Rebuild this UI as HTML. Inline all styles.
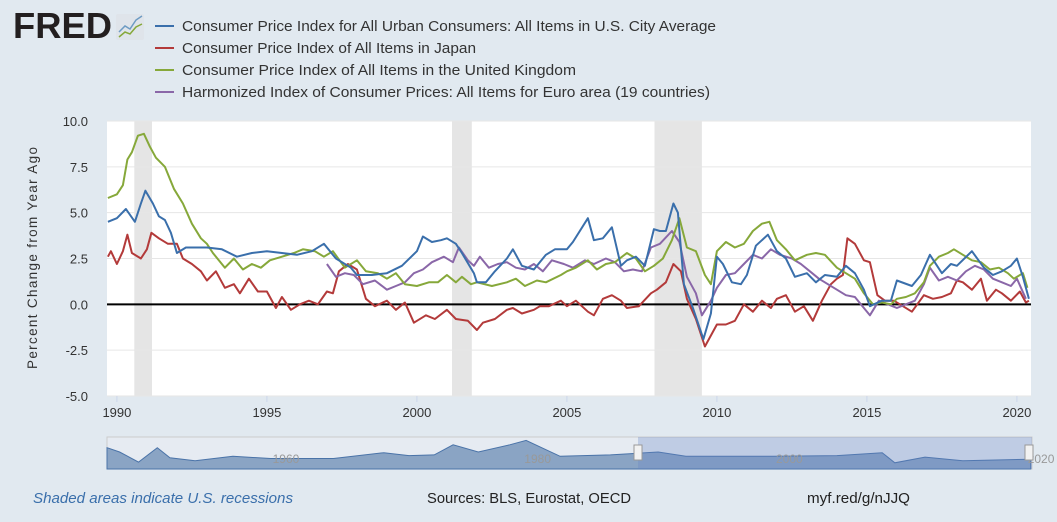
<!DOCTYPE html>
<html><head><meta charset="utf-8"><style>
body{margin:0;width:1057px;height:517px;background:#e1e9f0;font-family:"Liberation Sans",sans-serif;overflow:hidden;position:relative}
</style></head><body>
<svg id="c" width="1057" height="517" xmlns="http://www.w3.org/2000/svg"></svg>
<script>
const usYears=[1989.7,1990.0,1990.3,1990.6,1990.8,1990.95,1991.2,1991.4,1991.6,1991.8,1992.0,1992.3,1992.6,1993,1993.5,1994,1994.5,1995,1995.5,1996,1996.5,1996.9,1997.3,1997.8,1998,1998.5,1999,1999.5,2000,2000.2,2000.5,2000.8,2001.0,2001.3,2001.5,2001.9,2002.0,2002.3,2002.6,2003,2003.2,2003.5,2003.9,2004.3,2004.6,2005,2005.2,2005.7,2005.9,2006.2,2006.5,2006.8,2007.0,2007.3,2007.6,2007.9,2008.1,2008.3,2008.55,2008.7,2008.9,2009.2,2009.55,2009.8,2010.0,2010.2,2010.5,2010.8,2011.0,2011.3,2011.7,2012.0,2012.3,2012.6,2013.0,2013.3,2013.6,2014.0,2014.3,2014.6,2014.9,2015.1,2015.5,2015.8,2016.0,2016.5,2016.8,2017.1,2017.5,2017.8,2018.0,2018.5,2018.9,2019.2,2019.5,2019.8,2020.0,2020.2,2020.4];
const usValues=[4.5,4.7,5.2,4.5,5.5,6.2,5.5,4.8,4.6,3.9,2.8,3.1,3.1,3.1,3.0,2.6,2.8,2.9,2.8,2.7,2.9,3.3,2.5,2.0,1.6,1.6,1.7,2.1,2.9,3.7,3.4,3.5,3.6,3.3,2.8,1.7,1.2,1.2,1.8,2.5,3.0,2.1,1.9,2.7,3.0,3.0,3.4,4.7,3.5,3.6,4.2,2.1,2.4,2.6,2.1,4.1,4.0,4.0,5.5,5.0,1.1,-0.2,-1.9,-0.5,2.6,2.2,1.2,1.1,1.6,3.2,3.8,2.9,2.5,1.5,1.7,1.2,1.6,1.5,2.1,1.7,0.8,-0.1,0.2,0.2,1.3,1.0,1.6,2.7,1.7,2.2,2.1,2.9,2.0,1.6,1.8,2.1,2.5,1.5,0.3];
const jpYears=[1989.7,1989.8,1990.0,1990.2,1990.35,1990.5,1990.8,1991.0,1991.15,1991.4,1991.7,1992.0,1992.2,1992.5,1992.8,1993.0,1993.3,1993.6,1993.9,1994.1,1994.4,1994.7,1995.0,1995.3,1995.5,1995.8,1996.1,1996.4,1996.7,1997.0,1997.2,1997.4,1997.7,1998.0,1998.3,1998.6,1999.0,1999.3,1999.6,1999.9,2000.3,2000.6,2001.0,2001.3,2001.7,2002.0,2002.2,2002.6,2003.0,2003.2,2003.5,2003.9,2004.1,2004.4,2004.8,2005.0,2005.3,2005.7,2005.9,2006.2,2006.5,2006.8,2007.0,2007.4,2007.8,2008.0,2008.3,2008.55,2008.8,2009.0,2009.3,2009.6,2009.8,2010.0,2010.3,2010.6,2010.9,2011.2,2011.5,2011.8,2012.0,2012.3,2012.6,2012.9,2013.2,2013.5,2013.8,2014.0,2014.2,2014.35,2014.6,2014.9,2015.1,2015.35,2015.6,2015.9,2016.1,2016.5,2016.9,2017.2,2017.5,2017.8,2018.0,2018.2,2018.5,2018.8,2019.0,2019.3,2019.5,2019.8,2020.1,2020.3,2020.4];
const jpValues=[2.6,2.9,2.2,2.9,3.8,2.8,2.5,3.0,3.9,3.6,3.3,3.3,2.5,2.2,1.8,1.3,1.8,0.9,1.1,0.6,1.4,0.7,0.7,-0.2,0.4,-0.3,0.0,0.2,0.0,0.7,0.6,1.8,2.2,1.9,0.3,-0.1,0.2,-0.3,0.1,-1.0,-0.6,-0.8,-0.3,-0.8,-0.9,-1.4,-1.0,-0.8,-0.3,-0.2,-0.5,-0.3,-0.1,-0.1,0.2,-0.1,0.2,-0.4,-0.6,0.3,0.5,0.2,-0.2,-0.1,0.6,0.8,1.2,2.2,1.8,0.3,-0.8,-2.3,-1.7,-1.1,-1.1,-0.9,0.0,-0.4,0.2,-0.2,0.3,0.5,-0.4,-0.1,-0.9,0.2,1.1,1.4,1.6,3.6,3.3,2.4,2.3,0.5,0.2,0.2,0.0,-0.4,0.5,0.3,0.4,0.6,1.3,1.2,0.8,1.4,0.2,0.8,0.6,0.2,0.7,0.1,0.2];
const ukYears=[1989.7,1990.0,1990.2,1990.35,1990.5,1990.7,1990.9,1991.1,1991.3,1991.6,1991.9,1992.2,1992.5,1992.8,1993.0,1993.2,1993.6,1993.9,1994.2,1994.5,1994.8,1995.1,1995.5,1995.9,1996.2,1996.6,1996.9,1997.2,1997.6,1998.0,1998.3,1998.7,1999.0,1999.3,1999.6,2000.0,2000.4,2000.7,2001.0,2001.3,2001.5,2001.8,2002.0,2002.5,2003.0,2003.3,2003.6,2004.0,2004.3,2004.8,2005.0,2005.3,2005.7,2006.0,2006.3,2006.6,2007.0,2007.3,2007.6,2007.9,2008.2,2008.5,2008.75,2009.0,2009.3,2009.6,2009.8,2010.0,2010.3,2010.6,2010.9,2011.2,2011.5,2011.75,2012.0,2012.3,2012.6,2013.0,2013.3,2013.6,2014.0,2014.3,2014.6,2014.9,2015.2,2015.5,2015.8,2016.0,2016.3,2016.6,2016.9,2017.1,2017.4,2017.7,2017.9,2018.2,2018.5,2018.8,2019.1,2019.4,2019.7,2019.9,2020.2,2020.35];
const ukValues=[5.8,6.0,6.5,7.9,8.3,9.2,9.3,8.6,8.0,7.5,6.3,5.5,4.4,3.6,3.3,2.8,2.0,2.5,1.9,2.2,2.0,2.4,2.6,2.8,3.0,2.9,2.6,2.9,2.0,2.4,1.8,1.7,1.4,1.7,1.1,1.0,1.2,1.2,1.6,1.2,1.5,1.1,1.2,1.0,1.2,1.4,1.0,1.3,1.2,1.6,1.8,2.0,2.4,1.9,2.2,2.3,2.8,2.5,1.8,2.1,2.5,3.5,4.7,3.1,2.9,1.6,1.1,2.9,3.4,3.1,3.3,4.0,4.4,4.5,3.5,3.0,2.4,2.7,2.8,2.7,2.0,1.7,1.4,0.6,0.0,0.1,0.0,0.3,0.4,0.6,1.2,2.1,2.6,2.8,3.0,2.7,2.4,2.3,1.9,2.0,1.7,1.4,1.7,0.9];
const euYears=[1997.0,1997.3,1997.6,1997.9,1998.2,1998.6,1999.0,1999.3,1999.6,1999.9,2000.2,2000.5,2000.9,2001.2,2001.4,2001.7,2001.9,2002.1,2002.4,2002.7,2003.0,2003.3,2003.6,2003.9,2004.2,2004.5,2004.9,2005.2,2005.6,2005.9,2006.3,2006.6,2006.9,2007.2,2007.5,2007.8,2008.1,2008.5,2008.75,2009.0,2009.3,2009.5,2009.8,2010.0,2010.3,2010.6,2010.9,2011.2,2011.5,2011.8,2012.1,2012.5,2012.8,2013.1,2013.4,2013.7,2014.0,2014.3,2014.6,2014.9,2015.1,2015.4,2015.7,2016.0,2016.3,2016.6,2016.9,2017.1,2017.4,2017.7,2018.0,2018.3,2018.6,2018.9,2019.2,2019.5,2019.8,2020.0,2020.3];
const euValues=[2.2,1.5,1.7,1.6,1.1,1.3,0.8,1.0,1.2,1.7,1.9,2.3,2.6,2.3,3.1,2.4,2.1,2.6,2.0,2.2,2.3,2.0,1.9,2.2,1.8,2.4,2.2,2.0,2.4,2.2,2.5,2.3,1.8,1.9,1.8,3.1,3.3,4.0,3.4,1.5,0.6,-0.6,0.2,0.9,1.6,1.7,2.2,2.7,2.5,3.0,2.7,2.5,2.2,1.8,1.4,1.1,0.8,0.5,0.4,-0.2,-0.6,0.2,0.0,-0.2,0.0,0.2,1.1,2.0,1.3,1.5,1.3,1.8,2.1,1.9,1.4,1.2,1.0,1.4,0.3];
const yTicks=[10,7.5,5,2.5,0,-2.5,-5];
const xTicks=[1990,1995,2000,2005,2010,2015,2020];
const recessionStarts=[1990.58,2001.17,2007.92];
const recessionEnds=[1991.17,2001.83,2009.5];
const navYears=[1947,1948,1949.5,1951,1952,1954,1957,1960,1965,1969,1971,1973,1974.5,1976.5,1979,1980.3,1983,1987,1990.8,1993,2000,2005,2008.6,2009.6,2012,2015,2020.4];
const navValues=[9,6,-1,9,2,0,3,1.5,1.5,5.5,3.5,4,11,6,11,14,3,4,6,3,3,3.5,5.5,-1.5,2.5,0,1];

const svg=document.getElementById('c');const NS='http://www.w3.org/2000/svg';
function el(t,a,p){const e=document.createElementNS(NS,t);for(const k in a)e.setAttribute(k,a[k]);(p||svg).appendChild(e);return e;}
const L=107,R=1031,T=121,B=396,X0=1989.67,X1=2020.47;
const xs=v=>L+(v-X0)/(X1-X0)*(R-L);
const ys=v=>B-(v+5)/15*(B-T);
let e;
e=el('rect',{x:L,y:T,width:R-L,height:B-T,fill:'#fff'});

for(let i=0;i<recessionStarts.length;i++){
 e=el('rect',{x:xs(recessionStarts[i]),y:T,width:xs(recessionEnds[i])-xs(recessionStarts[i]),height:B-T,fill:'#e5e5e5'});
 
}
yTicks.forEach(v=>{
 e=el('line',{x1:L,x2:R,y1:ys(v),y2:ys(v),stroke:'#e6e6e6','stroke-width':1});
 
 e=el('text',{x:88,y:ys(v)+5,'text-anchor':'end','font-size':13,fill:'#333'});e.textContent=v.toFixed(1);
 
});
xTicks.forEach(v=>{
 e=el('line',{x1:xs(v),x2:xs(v),y1:B,y2:B+6,stroke:'#ccd6eb'});
 
 e=el('text',{x:xs(v),y:417,'text-anchor':'middle','font-size':13,fill:'#333'});e.textContent=v;
 
});
e=el('line',{x1:L,x2:R,y1:ys(0),y2:ys(0),stroke:'#000','stroke-width':2});

function series(xv,yv,col,name){
 const d=xv.map((x,i)=>(i?'L':'M')+xs(x).toFixed(1)+' '+ys(yv[i]).toFixed(1)).join('');
 const p=el('path',{d:d,fill:'none',stroke:col,'stroke-width':2,'stroke-linejoin':'round'});
 
}
series(jpYears,jpValues,'#b33a3a','japan-cpi-line');
series(euYears,euValues,'#8a67a8','euro-hicp-line');
series(ukYears,ukValues,'#86a83a','uk-cpi-line');
series(usYears,usValues,'#3a6fab','us-cpi-line');
e=el('text',{x:0,y:0,transform:'translate(37,258) rotate(-90)','text-anchor':'middle','font-size':13.5,fill:'#333',textLength:222});e.textContent='Percent Change from Year Ago';

// legend
const legNames=['Consumer Price Index for All Urban Consumers: All Items in U.S. City Average','Consumer Price Index of All Items in Japan','Consumer Price Index of All Items in the United Kingdom','Harmonized Index of Consumer Prices: All Items for Euro area (19 countries)'];
const legLens=[534,294,394,528];
const legCols=['#3a6fab','#b33a3a','#86a83a','#8a67a8'];
legNames.forEach((n,i)=>{
 const g=el('g',{});
 el('line',{x1:155,x2:174,y1:26+i*22,y2:26+i*22,stroke:legCols[i],'stroke-width':2},g);
 const t=el('text',{x:182,y:31+i*22,'font-size':14.5,fill:'#333',textLength:legLens[i],lengthAdjust:'spacingAndGlyphs'},g);t.textContent=n;
});
e=el('text',{x:13,y:38,'font-size':36,'font-weight':'bold',fill:'#231f20',textLength:99,lengthAdjust:'spacingAndGlyphs'});e.textContent='FRED';

e=el('rect',{x:116,y:14,width:28,height:26,fill:'#dfe4ea',rx:2});

el('polyline',{points:'119,32 125,26 130,29 136,20 142,16',fill:'none',stroke:'#6d9bc3','stroke-width':1.5});
el('polyline',{points:'119,37 125,32 130,34 136,27 142,24',fill:'none',stroke:'#86a83a','stroke-width':1.5});
// navigator
const NL=107,NR=1032,NT=437,NB=469;
const nx=v=>NL+(v-1947)/(2020.5-1947)*(NR-NL);
const ny=v=>NB-4-(v+3)/18*(NB-NT-6);
e=el('rect',{x:NL,y:NT,width:NR-NL,height:NB-NT,fill:'#e6ebf2',stroke:'#ccc'});

let nd='M'+nx(navYears[0])+' '+NB+navYears.map((x,i)=>'L'+nx(x).toFixed(1)+' '+ny(navValues[i]).toFixed(1)).join('')+'L'+nx(navYears[navYears.length-1])+' '+NB+'Z';
e=el('path',{d:nd,fill:'#8aa4c4',stroke:'#4a73a8','stroke-width':1});

e=el('rect',{x:638,y:NT,width:NR-638,height:NB-NT,fill:'rgba(102,133,194,0.3)'});

[1960,1980,2000,2020].forEach(v=>{e=el('text',{x:nx(v)+2,y:463,'font-size':12,fill:'#999'});e.textContent=v;
 });
[638,NR-3].forEach(x=>{e=el('rect',{x:x-4,y:445,width:8,height:15,fill:'#f2f2f2',stroke:'#999'});
 });
e=el('text',{x:33,y:503,'font-size':14.5,'font-style':'italic',fill:'#3a6fab',textLength:260,lengthAdjust:'spacingAndGlyphs'});e.textContent='Shaded areas indicate U.S. recessions';

e=el('text',{x:427,y:503,'font-size':14.5,fill:'#222',textLength:204,lengthAdjust:'spacingAndGlyphs'});e.textContent='Sources: BLS, Eurostat, OECD';

e=el('text',{x:807,y:503,'font-size':14.5,fill:'#222',textLength:103,lengthAdjust:'spacingAndGlyphs'});e.textContent='myf.red/g/nJJQ';

</script>
</body></html>
